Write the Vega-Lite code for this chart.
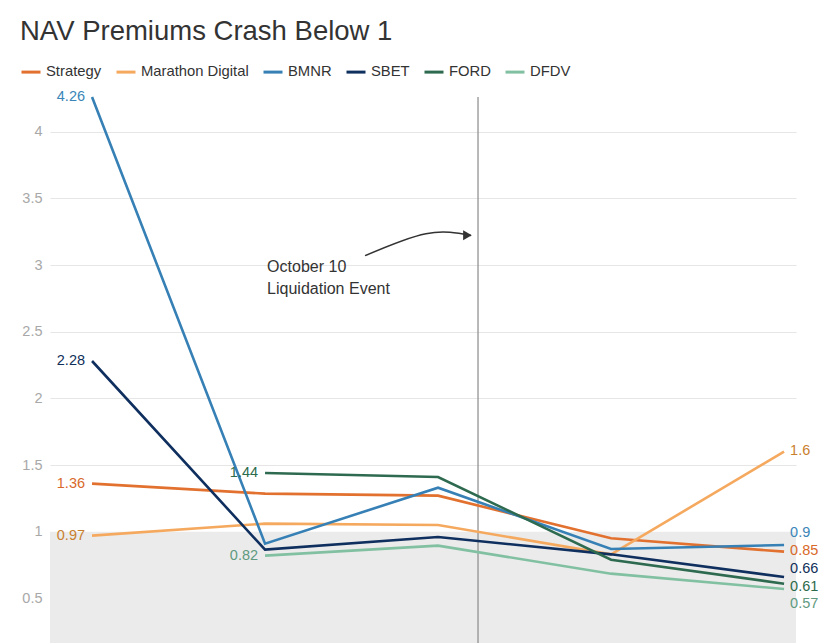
{
  "$schema": "https://vega.github.io/schema/vega-lite/v6.json",
  "autosize": "none",
  "width": 746,
  "height": 546,
  "padding": {"left": 50, "top": 97, "right": 40, "bottom": 0},
  "background": "white",
  "config": {
    "font": "Liberation Sans",
    "view": {"stroke": null},
    "axis": {"labelFont": "Liberation Sans"}
  },
  "title": {
    "text": "NAV Premiums Crash Below 1",
    "anchor": "start",
    "frame": "group",
    "fontSize": 27.5,
    "fontWeight": "normal",
    "color": "#333333",
    "dx": -30,
    "dy": 24,
    "offset": 12,
    "baseline": "bottom"
  },
  "datasets": {
    "nav": [
      {"idx": 0, "series": "Strategy", "value": 1.36},
      {"idx": 1, "series": "Strategy", "value": 1.285},
      {"idx": 2, "series": "Strategy", "value": 1.27},
      {"idx": 3, "series": "Strategy", "value": 0.95},
      {"idx": 4, "series": "Strategy", "value": 0.85},
      {"idx": 0, "series": "Marathon Digital", "value": 0.97},
      {"idx": 1, "series": "Marathon Digital", "value": 1.06},
      {"idx": 2, "series": "Marathon Digital", "value": 1.05},
      {"idx": 3, "series": "Marathon Digital", "value": 0.83},
      {"idx": 4, "series": "Marathon Digital", "value": 1.6},
      {"idx": 0, "series": "BMNR", "value": 4.26},
      {"idx": 1, "series": "BMNR", "value": 0.91},
      {"idx": 2, "series": "BMNR", "value": 1.33},
      {"idx": 3, "series": "BMNR", "value": 0.87},
      {"idx": 4, "series": "BMNR", "value": 0.9},
      {"idx": 0, "series": "SBET", "value": 2.28},
      {"idx": 1, "series": "SBET", "value": 0.865},
      {"idx": 2, "series": "SBET", "value": 0.96},
      {"idx": 3, "series": "SBET", "value": 0.83},
      {"idx": 4, "series": "SBET", "value": 0.66},
      {"idx": 1, "series": "FORD", "value": 1.44},
      {"idx": 2, "series": "FORD", "value": 1.41},
      {"idx": 3, "series": "FORD", "value": 0.79},
      {"idx": 4, "series": "FORD", "value": 0.61},
      {"idx": 1, "series": "DFDV", "value": 0.82},
      {"idx": 2, "series": "DFDV", "value": 0.895},
      {"idx": 3, "series": "DFDV", "value": 0.685},
      {"idx": 4, "series": "DFDV", "value": 0.57}
    ]
  },
  "resolve": {"scale": {"color": "independent"}},
  "layer": [
    {
      "data": {"values": [{"x0": -0.243, "x1": 4.069, "y0": 0.165, "y1": 1}]},
      "mark": {"type": "rect", "color": "#ebebeb"},
      "encoding": {
        "x": {"field": "x0", "type": "quantitative", "scale": {"domain": [-0.243, 4.069], "nice": false, "zero": false}, "axis": null},
        "x2": {"field": "x1"},
        "y": {"field": "y1", "type": "quantitative", "scale": {"domain": [0.165, 4.26], "nice": false, "zero": false},
          "axis": {"values": [0.5, 1, 1.5, 2, 2.5, 3, 3.5, 4], "format": "~g", "title": null, "domain": false, "ticks": false, "labelPadding": 8, "labelColor": "#a8a8a8", "labelFontSize": 14.5, "gridColor": "#e6e6e6", "gridWidth": 1.2}},
        "y2": {"field": "y0"}
      }
    },
    {
      "data": {"values": [{"x": 2.231}]},
      "mark": {"type": "rule", "color": "#8a8a8a", "strokeWidth": 1.2},
      "encoding": {"x": {"field": "x", "type": "quantitative"}}
    },
    {
      "data": {"name": "nav"},
      "mark": {"type": "line", "strokeWidth": 2.6},
      "encoding": {
        "x": {"field": "idx", "type": "quantitative"},
        "y": {"field": "value", "type": "quantitative"},
        "color": {
          "field": "series", "type": "nominal",
          "scale": {"domain": ["Strategy", "Marathon Digital", "BMNR", "SBET", "FORD", "DFDV"],
            "range": ["#e2712f", "#f5a95f", "#3680b5", "#0f2f5f", "#2d6a4f", "#82c0a2"]},
          "legend": {
            "title": null, "orient": "none", "direction": "horizontal",
            "legendX": -30, "legendY": -36,
            "symbolType": "stroke", "symbolSize": 361, "symbolStrokeWidth": 3,
            "labelFontSize": 14.8, "labelColor": "#333333", "labelOffset": 4,
            "columnPadding": 8
          }
        }
      }
    },
    {
      "data": {"name": "nav"},
      "transform": [
        {"joinaggregate": [{"op": "min", "field": "idx", "as": "firstIdx"}], "groupby": ["series"]},
        {"filter": "datum.idx === datum.firstIdx"}
      ],
      "mark": {"type": "text", "align": "right", "dx": -7, "fontSize": 14.5, "baseline": "middle"},
      "encoding": {
        "x": {"field": "idx", "type": "quantitative"},
        "y": {"field": "value", "type": "quantitative"},
        "text": {"field": "value", "type": "quantitative"},
        "color": {"field": "series", "type": "nominal", "legend": null,
          "scale": {"domain": ["Strategy", "Marathon Digital", "BMNR", "SBET", "FORD", "DFDV"],
            "range": ["#d8692a", "#c9802e", "#3a86b8", "#10305a", "#2c6a4c", "#5f9a80"]}}
      }
    },
    {
      "data": {"name": "nav"},
      "transform": [{"filter": "datum.idx === 4 && (datum.series === 'Marathon Digital' || datum.series === 'Strategy')"}],
      "mark": {"type": "text", "align": "left", "dx": 6, "dy": -1, "fontSize": 14.5, "baseline": "middle"},
      "encoding": {
        "x": {"field": "idx", "type": "quantitative"},
        "y": {"field": "value", "type": "quantitative"},
        "text": {"field": "value", "type": "quantitative"},
        "color": {"field": "series", "type": "nominal", "legend": null,
          "scale": {"domain": ["Strategy", "Marathon Digital", "BMNR", "SBET", "FORD", "DFDV"],
            "range": ["#d8692a", "#c9802e", "#3a86b8", "#10305a", "#2c6a4c", "#5f9a80"]}}
      }
    },
    {
      "data": {"name": "nav"},
      "transform": [{"filter": "datum.idx === 4 && datum.series === 'BMNR'"}],
      "mark": {"type": "text", "align": "left", "dx": 6, "dy": -12, "fontSize": 14.5, "baseline": "middle", "color": "#3a86b8"},
      "encoding": {
        "x": {"field": "idx", "type": "quantitative"},
        "y": {"field": "value", "type": "quantitative"},
        "text": {"field": "value", "type": "quantitative"}
      }
    },
    {
      "data": {"name": "nav"},
      "transform": [{"filter": "datum.idx === 4 && datum.series === 'SBET'"}],
      "mark": {"type": "text", "align": "left", "dx": 6, "dy": -8, "fontSize": 14.5, "baseline": "middle", "color": "#10305a"},
      "encoding": {
        "x": {"field": "idx", "type": "quantitative"},
        "y": {"field": "value", "type": "quantitative"},
        "text": {"field": "value", "type": "quantitative"}
      }
    },
    {
      "data": {"name": "nav"},
      "transform": [{"filter": "datum.idx === 4 && datum.series === 'FORD'"}],
      "mark": {"type": "text", "align": "left", "dx": 6, "dy": 3, "fontSize": 14.5, "baseline": "middle", "color": "#2c6a4c"},
      "encoding": {
        "x": {"field": "idx", "type": "quantitative"},
        "y": {"field": "value", "type": "quantitative"},
        "text": {"field": "value", "type": "quantitative"}
      }
    },
    {
      "data": {"name": "nav"},
      "transform": [{"filter": "datum.idx === 4 && datum.series === 'DFDV'"}],
      "mark": {"type": "text", "align": "left", "dx": 6, "dy": 15, "fontSize": 14.5, "baseline": "middle", "color": "#5f9a80"},
      "encoding": {
        "x": {"field": "idx", "type": "quantitative"},
        "y": {"field": "value", "type": "quantitative"},
        "text": {"field": "value", "type": "quantitative"}
      }
    },
    {
      "data": {"values": [
        {"ax": 1.578, "ay": 3.07},
        {"ax": 1.93, "ay": 3.235},
        {"ax": 2.19, "ay": 3.222}
      ]},
      "mark": {"type": "line", "color": "#333333", "strokeWidth": 1.5, "interpolate": "natural"},
      "encoding": {
        "x": {"field": "ax", "type": "quantitative"},
        "y": {"field": "ay", "type": "quantitative"}
      }
    },
    {
      "data": {"values": [{"ax": 2.17, "ay": 3.224}]},
      "mark": {"type": "point", "shape": "triangle-right", "filled": true, "color": "#333333", "size": 100, "opacity": 1},
      "encoding": {
        "x": {"field": "ax", "type": "quantitative"},
        "y": {"field": "ay", "type": "quantitative"}
      }
    },
    {
      "data": {"values": [{"tx": 1.012, "ty": 3.048, "label": "October 10\nLiquidation Event"}]},
      "mark": {"type": "text", "align": "left", "baseline": "top", "fontSize": 16, "color": "#333333", "lineBreak": "\n", "lineHeight": 22},
      "encoding": {
        "x": {"field": "tx", "type": "quantitative"},
        "y": {"field": "ty", "type": "quantitative"},
        "text": {"field": "label"}
      }
    }
  ]
}
